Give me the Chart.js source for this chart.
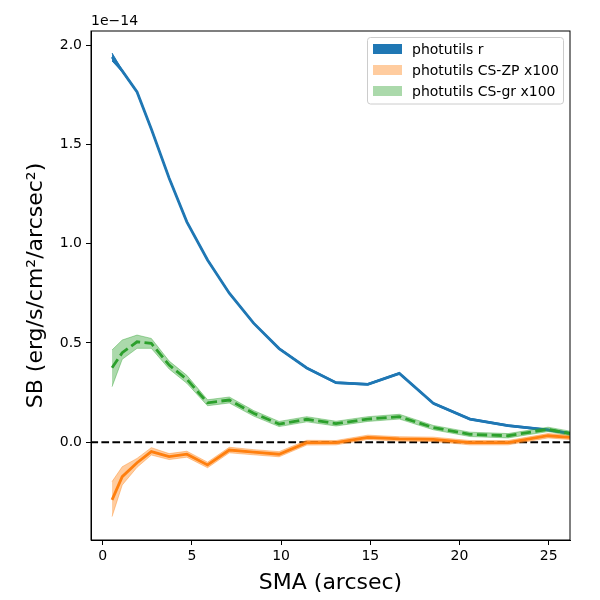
<!DOCTYPE html>
<html>
<head>
<meta charset="utf-8">
<script src="https://cdn.jsdelivr.net/npm/chart.js@4.4.0/dist/chart.umd.min.js"></script>
<style>
  body { margin: 0; background: #fff; }
  #wrap { width: 600px; height: 600px; position: relative; }
</style>
</head>
<body>
<div id="wrap"><canvas id="myChart"></canvas></div>
<script>
// SMA in arcsec, SB values in units of 1e-14 erg/s/cm2/arcsec2
const sma = [0.53, 1.1, 1.93, 2.73, 3.73, 4.72, 5.88, 7.1, 8.46, 9.89, 11.44, 13.08, 14.86, 16.63, 18.53, 20.58, 22.72, 24.96, 26.2];

const rVal = [1.94, 1.87, 1.764, 1.577, 1.33, 1.11, 0.918, 0.751, 0.60, 0.472, 0.374, 0.30, 0.292, 0.347, 0.196, 0.117, 0.084, 0.062, 0.045];
const rLo  = [1.92, 1.865, 1.76, 1.573, 1.326, 1.106, 0.914, 0.747, 0.596, 0.468, 0.370, 0.296, 0.288, 0.343, 0.192, 0.113, 0.080, 0.058, 0.041];
const rHi  = [1.96, 1.875, 1.768, 1.581, 1.334, 1.114, 0.922, 0.755, 0.604, 0.476, 0.378, 0.304, 0.296, 0.351, 0.200, 0.121, 0.088, 0.066, 0.049];

const zpVal = [-0.29, -0.173, -0.103, -0.047, -0.072, -0.06, -0.114, -0.039, -0.05, -0.06, -0.002, -0.002, 0.025, 0.017, 0.015, -0.002, -0.002, 0.033, 0.025];
const zpLo  = [-0.374, -0.215, -0.126, -0.064, -0.087, -0.075, -0.128, -0.053, -0.063, -0.073, -0.014, -0.013, 0.014, 0.006, 0.004, -0.013, -0.013, 0.022, 0.014];
const zpHi  = [-0.198, -0.123, -0.081, -0.027, -0.057, -0.045, -0.1, -0.025, -0.037, -0.047, 0.01, 0.009, 0.036, 0.028, 0.026, 0.009, 0.009, 0.044, 0.036];

const grVal = [0.375, 0.451, 0.506, 0.498, 0.389, 0.317, 0.199, 0.213, 0.146, 0.092, 0.116, 0.094, 0.117, 0.129, 0.074, 0.040, 0.033, 0.065, 0.045];
const grLo  = [0.28, 0.418, 0.473, 0.473, 0.369, 0.297, 0.184, 0.198, 0.132, 0.079, 0.103, 0.082, 0.105, 0.117, 0.063, 0.029, 0.022, 0.054, 0.034];
const grHi  = [0.465, 0.515, 0.54, 0.523, 0.409, 0.337, 0.214, 0.228, 0.16, 0.105, 0.129, 0.106, 0.129, 0.141, 0.085, 0.051, 0.044, 0.076, 0.056];

const zeroLine = [[-5, 0], [40, 0]];

const legendLabels = ['photutils r', 'photutils CS-ZP x100', 'photutils CS-gr x100'];
const legendColors = ['#1f77b4', 'rgba(255,127,14,0.4)', 'rgba(44,160,44,0.4)'];

function pts(ys) {
    return sma.map((x, i) => ({ x: x, y: ys[i] }));
}

function band(ys, color, order, fill) {
    return {
        data: pts(ys),
        borderColor: color,
        backgroundColor: color,
        borderWidth: 1,
        pointRadius: 0,
        fill: fill,
        order: order
    };
}

// frame, offset text and legend box drawn like matplotlib
const framePlugin = {
    id: 'frame',
    afterDraw(chart) {
        const ctx = chart.ctx;
        const a = chart.chartArea;
        ctx.save();
        ctx.strokeStyle = '#000';
        ctx.lineWidth = 1;
        ctx.strokeRect(a.left, a.top, a.right - a.left, a.bottom - a.top);

        ctx.fillStyle = '#000';
        ctx.font = '14px "DejaVu Sans"';
        ctx.textAlign = 'left';
        ctx.textBaseline = 'alphabetic';
        ctx.fillText('1e\u221214', a.left, a.top - 6);

        // legend
        const bx = 367.5, by = 37.5, bw = 196, bh = 66.5;
        ctx.beginPath();
        ctx.roundRect(bx, by, bw, bh, 3);
        ctx.fillStyle = 'rgba(255,255,255,0.8)';
        ctx.fill();
        ctx.strokeStyle = '#cccccc';
        ctx.stroke();
        ctx.font = '14px "DejaVu Sans"';
        ctx.textBaseline = 'middle';
        legendLabels.forEach((t, i) => {
            const cy = 49 + i * 21;
            ctx.fillStyle = legendColors[i];
            ctx.fillRect(373, cy - 5, 29, 10);
            ctx.fillStyle = '#000';
            ctx.fillText(t, 412, cy + 1);
        });
        ctx.restore();
    }
};

var ctx = document.getElementById('myChart').getContext('2d');
var myChart = new Chart(ctx, {
    type: 'line',
    data: {
        datasets: [
            { data: zeroLine, borderColor: '#000', borderWidth: 2, borderDash: [7.7, 3.3], pointRadius: 0, fill: false, order: 7 },
            band(rHi, '#1f77b4', 6, '+1'),
            band(rLo, '#1f77b4', 6, false),
            { data: pts(rVal), borderColor: '#1f77b4', borderWidth: 2.8, pointRadius: 0, fill: false, order: 5 },
            band(zpHi, 'rgba(255,127,14,0.4)', 4, '+1'),
            band(zpLo, 'rgba(255,127,14,0.4)', 4, false),
            { data: pts(zpVal), borderColor: '#ff7f0e', borderWidth: 2.8, pointRadius: 0, fill: false, order: 3 },
            band(grHi, 'rgba(44,160,44,0.4)', 2, '+1'),
            band(grLo, 'rgba(44,160,44,0.4)', 2, false),
            { data: pts(grVal), borderColor: '#2ca02c', borderWidth: 2.8, borderDash: [10.3, 4.4], pointRadius: 0, fill: false, order: 1 }
        ]
    },
    options: {
        responsive: true,
        maintainAspectRatio: false,
        animation: false,
        events: [],
        plugins: {
            legend: { display: false },
            tooltip: { enabled: false }
        },
        layout: {
            padding: { top: 31, right: 30, left: 0, bottom: 0 }
        },
        scales: {
            x: {
                type: 'linear',
                min: -0.65,
                max: 26.19,
                afterFit: function(scale) { scale.height = 60; },
                grid: { drawOnChartArea: false, drawTicks: true, tickLength: 5, color: '#000' },
                border: { display: true, color: '#000', width: 1 },
                ticks: {
                    stepSize: 5,
                    includeBounds: false,
                    color: '#000',
                    padding: 3,
                    maxRotation: 0,
                    font: { family: 'DejaVu Sans', size: 14 }
                },
                title: {
                    display: true,
                    text: 'SMA (arcsec)',
                    color: '#000',
                    font: { family: 'DejaVu Sans', size: 22 },
                    padding: { top: 0, bottom: 4 }
                }
            },
            y: {
                type: 'linear',
                min: -0.492,
                max: 2.071,
                afterFit: function(scale) { scale.width = 91; },
                grid: { drawOnChartArea: false, drawTicks: true, tickLength: 5, color: '#000' },
                border: { display: true, color: '#000', width: 1 },
                ticks: {
                    stepSize: 0.5,
                    includeBounds: false,
                    color: '#000',
                    padding: 4,
                    font: { family: 'DejaVu Sans', size: 14 },
                    callback: function(v) { return v.toFixed(1); }
                },
                title: {
                    display: true,
                    text: 'SB (erg/s/cm\u00b2/arcsec\u00b2)',
                    color: '#000',
                    font: { family: 'DejaVu Sans', size: 22 },
                    padding: { top: 23, bottom: 0 }
                }
            }
        }
    },
    plugins: [framePlugin]
});
</script>
</body>
</html>
